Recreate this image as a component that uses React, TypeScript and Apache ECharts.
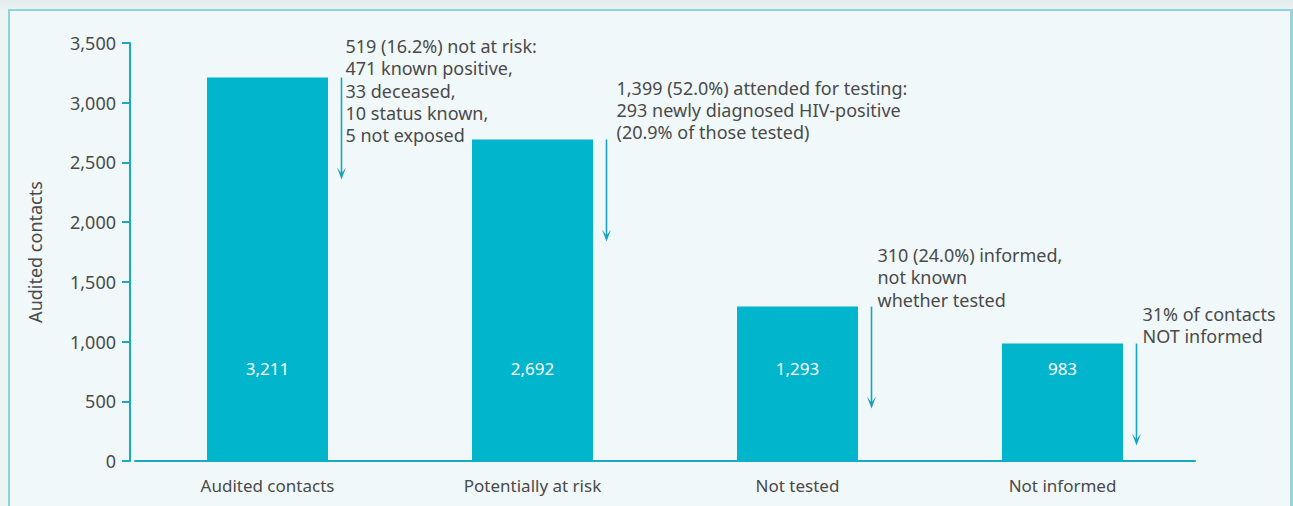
import React, { useEffect, useRef } from "react";
import * as echarts from "echarts";

const categories = ["Audited contacts", "Potentially at risk", "Not tested", "Not informed"];
const values = [3211, 2692, 1293, 983];
const yMax = 3500;
const yInterval = 500;
const annotations = [
  ["519 (16.2%) not at risk:", "471 known positive,", "33 deceased,", "10 status known,", "5 not exposed"],
  ["1,399 (52.0%) attended for testing:", "293 newly diagnosed HIV-positive", "(20.9% of those tested)"],
  ["310 (24.0%) informed,", "not known", "whether tested"],
  ["31% of contacts", "NOT informed"],
];

// layout of annotation text relative to arrow top (pixels) — styling only
const textOffsets = [
  [4, -43],
  [10, -63],
  [6, -63],
  [6, -41],
];

const FONT = "'Noto Sans', 'Open Sans', sans-serif";
const TEXT = "#4a4a4a";
const BAR = "#00b5cc";
const AXIS = "#1ba8c2";
const ARROW = "#1aa3bf";

export default function App() {
  const ref = useRef<HTMLDivElement>(null);
  useEffect(() => {
    if (!ref.current) return;
    const chart = echarts.init(ref.current, undefined, { renderer: "svg" });
    chart.setOption({
      animation: false,
      textStyle: { fontFamily: FONT },
      grid: { left: 135, right: 98, top: 43, bottom: 45, containLabel: false },
      xAxis: {
        type: "category",
        data: categories,
        axisLine: { show: true, lineStyle: { color: AXIS, width: 2 } },
        axisTick: { show: false },
        axisLabel: { color: TEXT, fontSize: 17, margin: 16, fontFamily: FONT },
      },
      yAxis: {
        type: "value",
        min: 0,
        max: yMax,
        interval: yInterval,
        offset: 5,
        name: "Audited contacts",
        nameLocation: "middle",
        nameGap: 86,
        nameTextStyle: { color: TEXT, fontSize: 18, fontFamily: FONT },
        axisLine: { show: true, lineStyle: { color: AXIS, width: 2 } },
        axisTick: { show: true, length: 8, lineStyle: { color: AXIS, width: 2 } },
        axisLabel: {
          color: TEXT,
          fontSize: 18,
          margin: 14,
          fontFamily: FONT,
          formatter: (v: number) => v.toLocaleString("en-US"),
        },
        splitLine: { show: false },
      },
      series: [
        {
          type: "bar",
          data: values,
          barWidth: 121,
          itemStyle: { color: BAR },
          label: {
            show: true,
            position: "insideBottom",
            distance: 84,
            color: "#ffffff",
            fontSize: 17,
            fontFamily: FONT,
            formatter: (p: any) => Number(p.value).toLocaleString("en-US"),
          },
        },
        {
          type: "custom",
          data: values.map((v, i) => [i, v, i]),
          z: 5,
          renderItem: (params: any, api: any) => {
            const i = api.value(0);
            const v = api.value(1);
            const k = api.value(2);
            const pt = api.coord([i, v]);
            const x = pt[0] + 74;
            const y0 = pt[1];
            const len = 102;
            const off = textOffsets[k];
            return {
              type: "group",
              children: [
                {
                  type: "line",
                  shape: { x1: x, y1: y0, x2: x, y2: y0 + len - 4 },
                  style: { stroke: ARROW, lineWidth: 1.6 },
                },
                {
                  type: "polygon",
                  shape: {
                    points: [
                      [x - 4.5, y0 + len - 12],
                      [x, y0 + len - 6],
                      [x + 4.5, y0 + len - 12],
                      [x, y0 + len],
                    ],
                  },
                  style: { fill: ARROW },
                },
                {
                  type: "text",
                  x: x + off[0],
                  y: y0 + off[1],
                  style: {
                    text: annotations[k].join("\n"),
                    fill: TEXT,
                    fontSize: 18,
                    fontFamily: FONT,
                    lineHeight: 22.4,
                    align: "left",
                    verticalAlign: "top",
                  },
                },
              ],
            };
          },
        },
      ],
    });
    return () => chart.dispose();
  }, []);

  return (
    <div
      style={{
        position: "fixed",
        left: 0,
        top: 0,
        width: 1293,
        height: 506,
        background: "linear-gradient(#e4ebeb, #eef3f3 12px, #eef3f3)",
        overflow: "hidden",
      }}
    >
      <div
        style={{
          position: "absolute",
          left: 8,
          top: 9,
          width: 1280,
          height: 510,
          background: "#f0f8fa",
          borderLeft: "2px solid #8fd3dc",
          borderTop: "2px solid #8fd3dc",
          borderRight: "3px solid #9fd3da",
        }}
      />
      <div ref={ref} style={{ position: "absolute", left: 0, top: 0, width: 1293, height: 506 }} />
    </div>
  );
}
